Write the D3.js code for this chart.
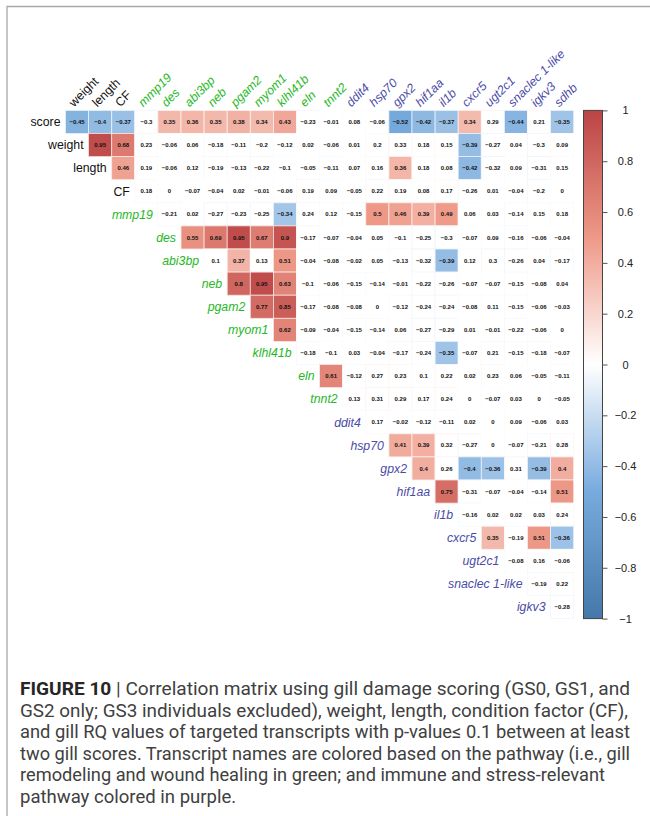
<!DOCTYPE html>
<html>
<head>
<meta charset="utf-8">
<script src="https://cdn.jsdelivr.net/npm/d3@7"></script>
<style>
  html, body { margin: 0; padding: 0; background: #fff; }
  svg { display: block; }
</style>
</head>
<body>
<svg id="chart" width="650" height="816"></svg>
<script>
// Variables in matrix order (rows use 0..21, columns use 1..22)
const variables = ["score", "weight", "length", "CF", "mmp19", "des", "abi3bp", "neb", "pgam2",
  "myom1", "klhl41b", "eln", "tnnt2", "ddit4", "hsp70", "gpx2", "hif1aa", "il1b", "cxcr5",
  "ugt2c1", "snaclec 1-like", "igkv3", "sdhb"];

// Pathway groups used to colour the transcript names
const remodelingGenes = ["mmp19", "des", "abi3bp", "neb", "pgam2", "myom1", "klhl41b", "eln", "tnnt2"];
const immuneGenes = ["ddit4", "hsp70", "gpx2", "hif1aa", "il1b", "cxcr5", "ugt2c1", "snaclec 1-like", "igkv3", "sdhb"];

// Upper-triangle correlations: row k holds r(variables[k], variables[k+1..])
const corrScore   = [-0.45, -0.4, -0.37, -0.3, 0.35, 0.36, 0.35, 0.38, 0.34, 0.43, -0.23, -0.01, 0.08, -0.06, -0.52, -0.42, -0.37, 0.34, 0.29, -0.44, 0.21, -0.35];
const corrWeight  = [0.95, 0.68, 0.23, -0.06, 0.06, -0.18, -0.11, -0.2, -0.12, 0.02, -0.06, 0.01, 0.2, 0.33, 0.18, 0.15, -0.39, -0.27, 0.04, -0.3, 0.09];
const corrLength  = [0.46, 0.19, -0.06, 0.12, -0.19, -0.13, -0.22, -0.1, -0.05, -0.11, 0.07, 0.16, 0.36, 0.18, 0.08, -0.42, -0.32, 0.09, -0.31, 0.15];
const corrCF      = [0.18, 0, -0.07, -0.04, 0.02, -0.01, -0.06, 0.19, 0.09, -0.05, 0.22, 0.19, 0.08, 0.17, -0.26, 0.01, -0.04, -0.2, 0];
const corrMmp19   = [-0.21, 0.02, -0.27, -0.23, -0.25, -0.34, 0.24, 0.12, -0.15, 0.5, 0.46, 0.39, 0.49, 0.06, 0.03, -0.14, 0.15, 0.18];
const corrDes     = [0.55, 0.69, 0.95, 0.67, 0.9, -0.17, -0.07, -0.04, 0.05, -0.1, -0.25, -0.3, -0.07, 0.09, -0.16, -0.06, -0.04];
const corrAbi3bp  = [0.1, 0.37, 0.13, 0.51, -0.04, -0.08, -0.02, 0.05, -0.13, -0.32, -0.39, 0.12, 0.3, -0.26, 0.04, -0.17];
const corrNeb     = [0.8, 0.95, 0.63, -0.1, -0.06, -0.15, -0.14, -0.01, -0.22, -0.26, -0.07, -0.07, -0.15, -0.08, 0.04];
const corrPgam2   = [0.77, 0.85, -0.17, -0.08, -0.08, 0, -0.12, -0.24, -0.24, -0.08, 0.11, -0.15, -0.06, -0.03];
const corrMyom1   = [0.62, -0.09, -0.04, -0.15, -0.14, 0.06, -0.27, -0.29, 0.01, -0.01, -0.22, -0.06, 0];
const corrKlhl41b = [-0.18, -0.1, 0.03, -0.04, -0.17, -0.24, -0.35, -0.07, 0.21, -0.15, -0.18, -0.07];
const corrEln     = [0.61, -0.12, 0.27, 0.23, 0.1, 0.22, 0.02, 0.23, 0.06, -0.05, -0.11];
const corrTnnt2   = [0.13, 0.31, 0.29, 0.17, 0.24, 0, -0.07, 0.03, 0, -0.05];
const corrDdit4   = [0.17, -0.02, -0.12, -0.11, 0.02, 0, 0.09, -0.06, 0.03];
const corrHsp70   = [0.41, 0.39, 0.32, -0.27, 0, -0.07, -0.21, 0.28];
const corrGpx2    = [0.4, 0.26, -0.4, -0.36, 0.31, -0.39, 0.4];
const corrHif1aa  = [0.75, -0.31, -0.07, -0.04, -0.14, 0.51];
const corrIl1b    = [-0.16, 0.02, 0.02, 0.03, 0.24];
const corrCxcr5   = [0.35, -0.19, 0.51, -0.36];
const corrUgt2c1  = [-0.08, 0.16, -0.06];
const corrSnaclec = [-0.19, 0.22];
const corrIgkv3   = [-0.28];

const corrRows = [corrScore, corrWeight, corrLength, corrCF, corrMmp19, corrDes, corrAbi3bp,
  corrNeb, corrPgam2, corrMyom1, corrKlhl41b, corrEln, corrTnnt2, corrDdit4, corrHsp70,
  corrGpx2, corrHif1aa, corrIl1b, corrCxcr5, corrUgt2c1, corrSnaclec, corrIgkv3];

// Coefficients below this magnitude are not significant and left blank
const sigThreshold = 0.335;

const legendTicks = [1, 0.8, 0.6, 0.4, 0.2, 0, -0.2, -0.4, -0.6, -0.8, -1];

const captionLines = [
  "Correlation matrix using gill damage scoring (GS0, GS1, and",
  "GS2 only; GS3 individuals excluded), weight, length, condition factor (CF),",
  "and gill RQ values of targeted transcripts with p-value\u2264 0.1 between at least",
  "two gill scores. Transcript names are colored based on the pathway (i.e., gill",
  "remodeling and wound healing in green; and immune and stress-relevant",
  "pathway colored in purple."
];

// ---------------------------------------------------------------------------
const svg = d3.select("#chart");
const fmt = v => String(v).replace("-", "\u2212");

const rowVars = variables.slice(0, -1);
const colVars = variables.slice(1);

const gridLeft = 65.5, gridTop = 110.4, cell = 23.1;
const x = d3.scaleBand().domain(colVars).range([gridLeft, gridLeft + cell * colVars.length]);
const y = d3.scaleBand().domain(rowVars).range([gridTop, gridTop + cell * rowVars.length]);

const color = d3.scaleLinear()
  .domain([-1, -0.5, 0, 0.5, 1])
  .range(["#4477AA", "#77AADD", "#FFFFFF", "#EE9988", "#BB4444"])
  .interpolate(d3.interpolateRgb);

const labelColor = name => remodelingGenes.includes(name) ? "#25B825"
  : immuneGenes.includes(name) ? "#4B4BA8" : "#111";
const isGene = name => remodelingGenes.includes(name) || immuneGenes.includes(name);

// Outer frame
svg.append("path")
  .attr("d", "M7,816 V6.5 H650")
  .attr("fill", "none").attr("stroke", "#a8a8a8").attr("stroke-width", 1.3);

// Cells
const cells = [];
corrRows.forEach((row, i) => {
  row.forEach((r, k) => {
    cells.push({ row: rowVars[i], col: colVars[i + k], r });
  });
});

const g = svg.append("g");
g.selectAll("rect.cell").data(cells).join("rect")
  .attr("class", "cell")
  .attr("x", d => x(d.col))
  .attr("y", d => y(d.row))
  .attr("width", x.bandwidth())
  .attr("height", y.bandwidth())
  .attr("fill", d => Math.abs(d.r) >= sigThreshold ? color(d.r) : "#fff")
  .attr("stroke", d => d3.interpolateRgb(color(d.r), "#fff")(0.8))
  .attr("stroke-width", 0.8);

g.selectAll("text.val").data(cells).join("text")
  .attr("class", "val")
  .attr("x", d => x(d.col) + x.bandwidth() / 2)
  .attr("y", d => y(d.row) + y.bandwidth() / 2)
  .attr("dy", "0.35em")
  .attr("text-anchor", "middle")
  .attr("font-family", "Liberation Sans, Arial, sans-serif")
  .attr("font-weight", "bold")
  .attr("font-size", 6)
  .attr("fill", "#111")
  .text(d => fmt(d.r));

// Row labels, right-aligned before the first cell of each row
svg.selectAll("text.rowlab").data(rowVars).join("text")
  .attr("class", "rowlab")
  .attr("x", (d, i) => x(colVars[i]) - 5)
  .attr("y", d => y(d) + y.bandwidth() / 2)
  .attr("dy", "0.35em")
  .attr("text-anchor", "end")
  .attr("font-family", "Liberation Sans, Arial, sans-serif")
  .attr("font-size", 12.3)
  .attr("font-style", d => isGene(d) ? "italic" : "normal")
  .attr("fill", labelColor)
  .text(d => d);

// Column labels at 45 degrees above the matrix
svg.selectAll("text.collab").data(colVars).join("text")
  .attr("class", "collab")
  .attr("transform", d => `translate(${x(d) + x.bandwidth() / 2 - 3},${gridTop - 3}) rotate(-45)`)
  .attr("font-family", "Liberation Sans, Arial, sans-serif")
  .attr("font-size", 12.3)
  .attr("font-style", d => isGene(d) ? "italic" : "normal")
  .attr("fill", labelColor)
  .text(d => d);

// Colour legend
const barX = 583.5, barW = 19;
const yLeg = d3.scaleLinear().domain([1, -1]).range([gridTop, gridTop + cell * rowVars.length]);
const grad = svg.append("defs").append("linearGradient")
  .attr("id", "legGrad").attr("x1", 0).attr("x2", 0).attr("y1", 0).attr("y2", 1);
d3.range(0, 1.0001, 0.05).forEach(t => {
  grad.append("stop").attr("offset", t).attr("stop-color", color(1 - 2 * t));
});
svg.append("rect")
  .attr("x", barX).attr("y", yLeg(1))
  .attr("width", barW).attr("height", yLeg(-1) - yLeg(1))
  .attr("fill", "url(#legGrad)")
  .attr("stroke", "#444").attr("stroke-width", 1);

const legAxis = d3.axisRight(yLeg).tickValues(legendTicks).tickSize(5).tickPadding(10)
  .tickFormat(fmt);
const axG = svg.append("g").attr("transform", `translate(${barX + barW},0)`).call(legAxis);
axG.select(".domain").remove();
axG.selectAll(".tick line").attr("stroke", "#555");
axG.selectAll(".tick text")
  .attr("font-family", "Liberation Sans, Arial, sans-serif")
  .attr("font-size", 11)
  .attr("fill", "#222")
  .attr("text-anchor", "middle")
  .attr("x", 23);

// Figure caption: left-aligned block; full lines fitted to the text column width
const cap = svg.append("g").attr("font-family", "Roboto, Liberation Sans, sans-serif")
  .attr("fill", "#404040");
const capX = 20, capY0 = 695, capStep = 21.6;
const capLineWidths = [610, 608, 610, 610, 585];
const capTexts = captionLines.map((line, i) => {
  const t = cap.append("text").attr("x", capX).attr("y", capY0 + i * capStep)
    .attr("font-size", 17);
  if (i === 0) {
    t.append("tspan").attr("font-weight", "bold").attr("fill", "#262626").text("FIGURE 10");
    t.append("tspan").text(" | " + line);
  } else {
    t.text(line);
  }
  return t;
});
const natural = capTexts.map(t => t.node().getComputedTextLength());
const capSize = 17 * d3.mean(capLineWidths.map((w, i) => w / natural[i]));
capTexts.forEach((t, i) => {
  t.attr("font-size", capSize);
  if (i < capLineWidths.length) {
    t.attr("textLength", capLineWidths[i]).attr("lengthAdjust", "spacingAndGlyphs");
  }
});
</script>
</body>
</html>
